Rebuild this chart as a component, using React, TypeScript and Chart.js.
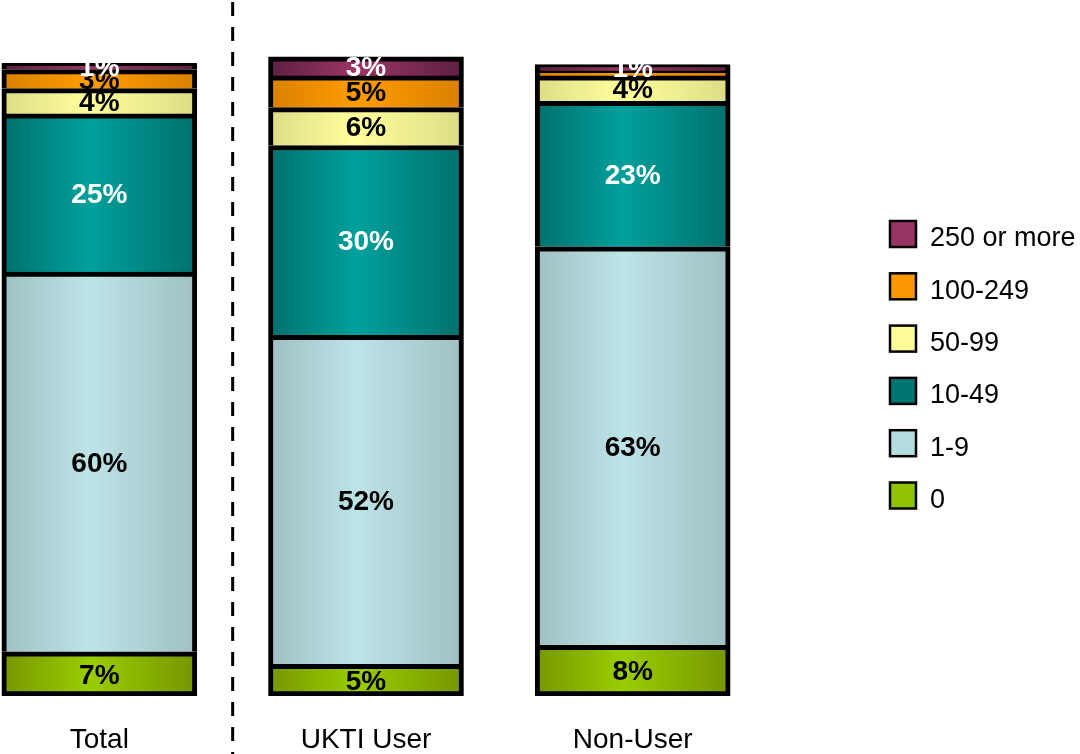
import React, { useEffect, useRef } from 'react';
import { Chart, registerables } from 'chart.js';

Chart.register(...registerables);

// ---- data ----
const categories = ['Total', 'UKTI User', 'Non-User'];
const seriesNames = ['0', '1-9', '10-49', '50-99', '100-249', '250 or more'];
const values0 = [7, 5, 8];
const values1to9 = [60, 52, 63];
const values10to49 = [25, 30, 23];
const values50to99 = [4, 6, 4];
const values100to249 = [3, 5, 0.8];
const values250plus = [1, 3, 1];
const seriesValues = [values0, values1to9, values10to49, values50to99, values100to249, values250plus];

// ---- styles ----
const darkColors = ['#769600', '#9fbfc3', '#00706d', '#dcdc86', '#d98000', '#5c1f42'];
const lightColors = ['#9acd00', '#bde4e7', '#00a09c', '#ffff9c', '#ff9c00', '#9c3567'];
const swatchColors = ['#8fc200', '#b5dde0', '#007674', '#fbfb98', '#fb9800', '#983464'];
const labelColors = ['#000', '#000', '#fff', '#000', '#000', '#fff'];

const CANVAS_W = 1114;
const CANVAS_H = 754;
const OFFSET_X = 34;
const BAR_W = 195;
const FONT = '"Liberation Sans", Arial, Helvetica, sans-serif';

const gradientFor = (i: number) => (ctx: any) => {
  const chart = ctx.chart;
  const xs = chart.scales && chart.scales.x;
  if (!xs || ctx.dataIndex === undefined) return lightColors[i];
  const cx = xs.getPixelForValue(ctx.dataIndex);
  if (!Number.isFinite(cx)) return lightColors[i];
  const g = chart.ctx.createLinearGradient(cx - BAR_W / 2, 0, cx + BAR_W / 2, 0);
  g.addColorStop(0, darkColors[i]);
  g.addColorStop(0.45, lightColors[i]);
  g.addColorStop(1, darkColors[i]);
  return g;
};

const labelsPlugin = {
  id: 'segLabels',
  afterDatasetsDraw(chart: any) {
    const ctx = chart.ctx;
    ctx.save();
    ctx.font = `bold 28px ${FONT}`;
    ctx.textAlign = 'center';
    ctx.textBaseline = 'middle';
    chart.data.datasets.forEach((ds: any, di: number) => {
      const meta = chart.getDatasetMeta(di);
      meta.data.forEach((bar: any, i: number) => {
        const v = ds.data[i];
        if (v < 1) return;
        ctx.fillStyle = labelColors[di];
        ctx.fillText(`${Math.round(v)}%`, bar.x, (bar.y + bar.base) / 2 + 2);
      });
    });
    ctx.restore();
  },
};

const decorPlugin = {
  id: 'decor',
  afterDraw(chart: any) {
    const ctx = chart.ctx;
    const xs = chart.scales.x;
    ctx.save();
    // dashed divider
    const dx = (xs.getPixelForValue(0) + xs.getPixelForValue(1)) / 2;
    ctx.strokeStyle = '#000';
    ctx.lineWidth = 3;
    ctx.setLineDash([14, 11]);
    ctx.beginPath();
    ctx.moveTo(dx, 2);
    ctx.lineTo(dx, CANVAS_H);
    ctx.stroke();
    ctx.setLineDash([]);
    // legend
    const boxX = 890 + OFFSET_X;
    const textX = 930 + OFFSET_X;
    const top0 = 221;
    const step = 52.3;
    const size = 26;
    ctx.font = `27px ${FONT}`;
    ctx.textAlign = 'left';
    ctx.textBaseline = 'middle';
    for (let k = 0; k < seriesNames.length; k++) {
      const si = seriesNames.length - 1 - k;
      const y = top0 + k * step;
      ctx.fillStyle = swatchColors[si];
      ctx.fillRect(boxX, y, size, size);
      ctx.strokeStyle = '#000';
      ctx.lineWidth = 2.5;
      ctx.strokeRect(boxX, y, size, size);
      ctx.fillStyle = '#000';
      ctx.fillText(seriesNames[si], textX, y + size / 2 + 5);
    }
    ctx.restore();
  },
};

export default function App() {
  const ref = useRef<HTMLCanvasElement>(null);
  useEffect(() => {
    if (!ref.current) return;
    const chart = new Chart(ref.current, {
      type: 'bar',
      data: {
        labels: categories,
        datasets: seriesValues.map((vals, i) => ({
          label: seriesNames[i],
          data: vals,
          backgroundColor: gradientFor(i),
          borderColor: '#000',
          borderWidth: 5,
          borderSkipped: i === 0 ? false : 'start',
          barThickness: BAR_W,
        })),
      },
      options: {
        responsive: false,
        animation: false,
        layout: { padding: { left: 0, right: CANVAS_W - 800, top: 0, bottom: 0 } },
        plugins: { legend: { display: false }, tooltip: { enabled: false } },
        scales: {
          x: {
            stacked: true,
            grid: { display: false, drawTicks: false },
            border: { display: false },
            ticks: { color: '#000', font: { family: FONT, size: 28 }, padding: 27, maxRotation: 0 },
            afterFit: (s: any) => { s.height = 58; },
          },
          y: { stacked: true, display: false, min: 0, max: 110 },
        },
      },
      plugins: [labelsPlugin, decorPlugin],
    } as any);
    return () => chart.destroy();
  }, []);
  return (
    <div style={{ position: 'absolute', left: -OFFSET_X, top: 0, width: CANVAS_W, height: CANVAS_H, background: '#fff' }}>
      <canvas ref={ref} width={CANVAS_W} height={CANVAS_H} />
    </div>
  );
}
